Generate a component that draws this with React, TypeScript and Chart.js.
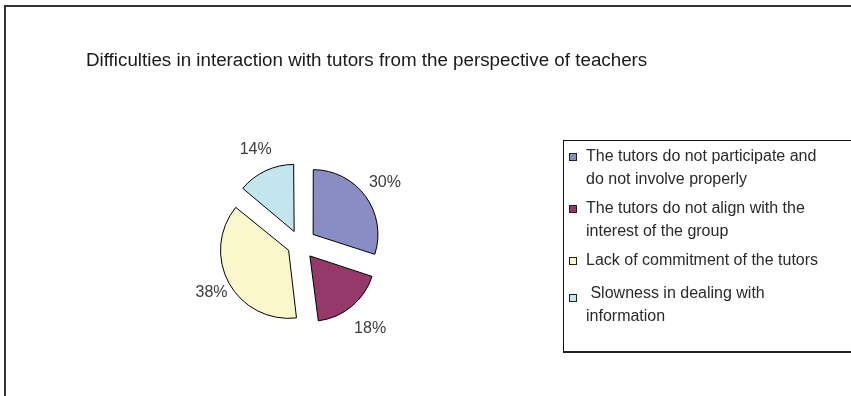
import React, { useEffect, useRef } from "react";
import { Chart, registerables } from "chart.js";

Chart.register(...registerables);

// Chart content
const TITLE = "Difficulties in interaction with tutors from the perspective of teachers";
const CATEGORIES: string[][] = [
  ["The tutors do not participate and", "do not involve properly"],
  ["The tutors do not align with the", "interest of the group"],
  ["Lack of commitment of the tutors"],
  [" Slowness in dealing with", "information"],
];
const SHARES = [30, 18, 38, 14];

// Styling
const COLORS = ["#8a8cc4", "#97386a", "#f9f7cb", "#c3e5ee"];
const SLICE_OFFSETS = [65, 62, 52, 55];
const LABEL_RADII = [105, 110, 101, 104];
const FONT = '"Liberation Sans", Arial, Helvetica, sans-serif';
const LEGEND_ROW_CENTERS = [156, 208, 260, 293];

const percentLabels = {
  id: "percentLabels",
  afterDatasetsDraw(chart: any) {
    const meta = chart.getDatasetMeta(0);
    const ctx = chart.ctx;
    ctx.save();
    ctx.font = `16px ${FONT}`;
    ctx.fillStyle = "#3c3c3c";
    ctx.textAlign = "center";
    ctx.textBaseline = "middle";
    meta.data.forEach((arc: any, i: number) => {
      const { x, y, startAngle, endAngle } = arc.getProps(
        ["x", "y", "startAngle", "endAngle"],
        true
      );
      const mid = (startAngle + endAngle) / 2;
      const r = LABEL_RADII[i];
      ctx.fillText(`${SHARES[i]}%`, x + Math.cos(mid) * r, y + Math.sin(mid) * r);
    });
    ctx.restore();
  },
};

export default function App() {
  const canvasRef = useRef<HTMLCanvasElement | null>(null);

  useEffect(() => {
    const canvas = canvasRef.current;
    if (!canvas) return;
    const chart = new Chart(canvas, {
      type: "pie",
      data: {
        labels: CATEGORIES,
        datasets: [
          {
            data: SHARES,
            backgroundColor: COLORS,
            borderColor: "#000000",
            borderWidth: 1,
            offset: SLICE_OFFSETS,
          },
        ],
      },
      options: {
        responsive: false,
        animation: false,
        events: [],
        devicePixelRatio: 1,
        radius: 64,
        layout: { padding: { left: 86, right: 337, top: 92, bottom: 0 } },
        plugins: {
          legend: { display: false },
          tooltip: { enabled: false },
          title: { display: false },
        },
      } as any,
      plugins: [percentLabels],
    });
    return () => chart.destroy();
  }, []);

  return (
    <div
      style={{
        position: "absolute",
        left: 0,
        top: 0,
        width: 851,
        height: 396,
        overflow: "hidden",
        background: "#ffffff",
        fontFamily: FONT,
      }}
    >
      {/* outer frame */}
      <div
        style={{
          position: "absolute",
          left: 4,
          top: 5,
          width: 900,
          height: 450,
          borderTop: "2px solid #333",
          borderLeft: "2px solid #333",
        }}
      />
      <canvas
        ref={canvasRef}
        width={851}
        height={396}
        style={{ position: "absolute", left: 0, top: 0, width: 851, height: 396 }}
      />
      <div
        style={{
          position: "absolute",
          left: 86,
          top: 49,
          fontSize: 18.8,
          lineHeight: "22px",
          color: "#1a1a1a",
          whiteSpace: "nowrap",
        }}
      >
        {TITLE}
      </div>
      {/* legend box */}
      <div
        style={{
          position: "absolute",
          left: 563,
          top: 140,
          width: 320,
          height: 210,
          borderTop: "1px solid #111",
          borderLeft: "1px solid #111",
          borderBottom: "2px solid #222",
        }}
      />
      {CATEGORIES.map((lines, i) => {
        const c = LEGEND_ROW_CENTERS[i];
        return (
          <React.Fragment key={i}>
            <div
              style={{
                position: "absolute",
                left: 569,
                top: c - 3 + (i === 3 ? 4 : 0),
                width: 6,
                height: 6,
                background: COLORS[i],
                border: "1px solid #222",
              }}
            />
            <div
              style={{
                position: "absolute",
                left: 586,
                top: c - 11,
                fontSize: 16,
                lineHeight: "22.5px",
                color: "#2a2a2a",
                whiteSpace: "pre",
              }}
            >
              {lines.join("\n")}
            </div>
          </React.Fragment>
        );
      })}
    </div>
  );
}
